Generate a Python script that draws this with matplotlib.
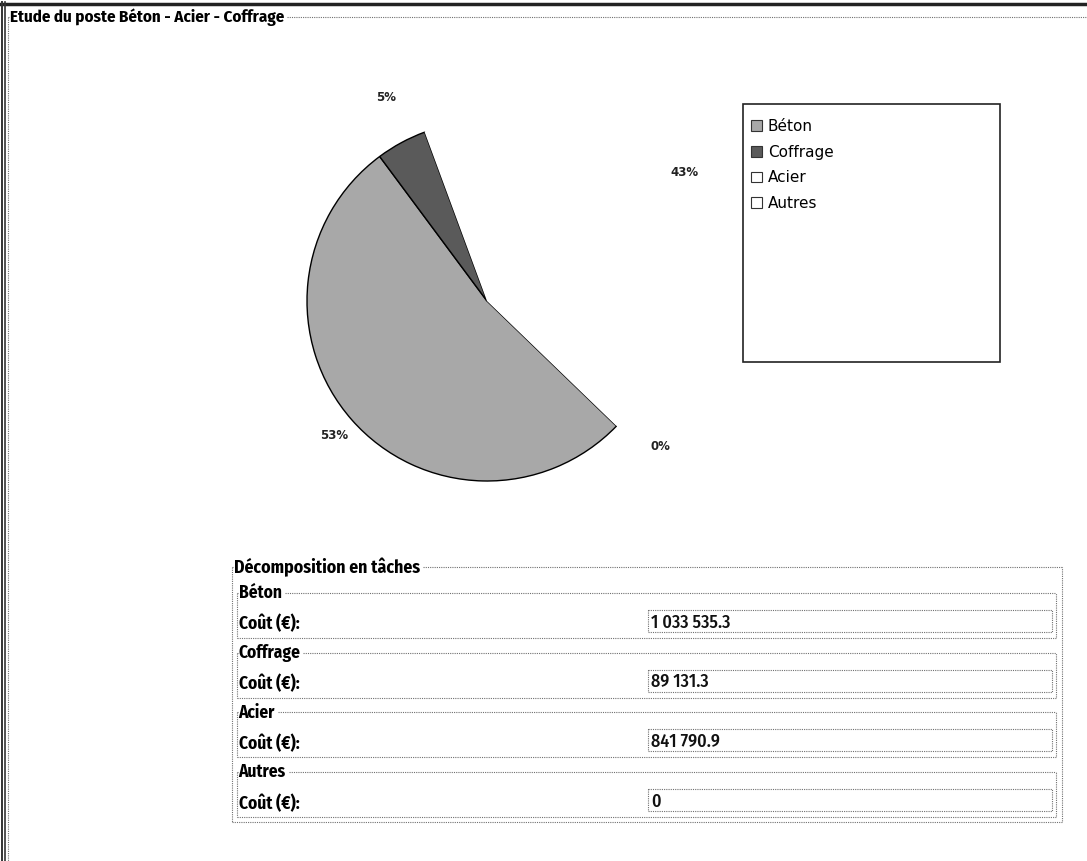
import numpy as np
import matplotlib.pyplot as plt
from matplotlib.patches import Patch, Rectangle

# cost breakdown of the concrete / steel / formwork item
categories = ['Béton', 'Coffrage', 'Acier', 'Autres']
costs = [1033535.3, 89131.3, 841790.9, 0]
slice_colors = ['#a8a8a8', '#5a5a5a', 'white', 'white']

W, H = 1087, 861
NARROW = ['Fira Sans Condensed', 'DejaVu Sans']
DOT = dict(color='#707070', lw=0.8, ls=(0, (1, 1)))


def fmt_cost(v):
    if v == 0:
        return '0'
    return f'{v:,.1f}'.replace(',', ' ')


fig = plt.figure(figsize=(W / 100, H / 100), dpi=100)
bg = fig.add_axes([0, 0, 1, 1])
bg.set_xlim(0, W)
bg.set_ylim(H, 0)
bg.axis('off')
renderer = fig.canvas.get_renderer()


def titled_box(x0, y0, x1, y1, title, size, sides=True):
    t = bg.text(x0 + 1.5, y0, title, fontsize=size, fontweight='bold',
                family=NARROW, ha='left', va='center')
    tx = t.get_window_extent(renderer).x1
    bg.plot([x0, x0 + 1], [y0, y0], **DOT)
    bg.plot([tx + 3, x1], [y0, y0], **DOT)
    bg.plot([x0, x0], [y0, y1], **DOT)
    if sides:
        bg.plot([x0, x1, x1], [y1, y1, y0], **DOT)


# window frame
bg.plot([0, W], [3.5, 3.5], color='#222222', lw=2.5)
bg.plot([1.5, 1.5], [2, H], color='#333333', lw=1.4)
bg.plot([5, 5], [2, H], color='#333333', lw=1.2)
titled_box(8, 17, W, H + 5, 'Etude du poste Béton - Acier - Coffrage', 12.2, sides=False)

# pie
cx, cy, r = 487, 301, 180
ax = fig.add_axes([(cx - r) / W, 1 - (cy + r) / H, 2 * r / W, 2 * r / H])
wedges, _ = ax.pie(costs, colors=slice_colors, startangle=-44, counterclock=False,
                   wedgeprops=dict(edgecolor='black', linewidth=1.0))
for w in wedges[2:]:
    w.set_edgecolor('none')
ax.set_xlim(-1, 1)
ax.set_ylim(-1, 1)

label_dist = [1.13, 1.26, 1.31, 1.26]
label_turn = [0, -2, 0, 4]
total = sum(costs)
for w, v, d, t in zip(wedges, costs, label_dist, label_turn):
    a = np.deg2rad((w.theta1 + w.theta2) / 2 + t)
    ax.text(d * np.cos(a), d * np.sin(a), f'{round(100 * v / total)}%',
            ha='center', va='center', fontsize=8.5, fontweight='bold',
            color='#222222')

# legend
bg.add_patch(Rectangle((743, 104), 257, 258, fill=False, ec='#222222', lw=1.2))
handles = [Patch(facecolor=c, edgecolor='#333333', lw=0.8) for c in slice_colors]
fig.legend(handles, categories, loc='upper left',
           bbox_to_anchor=(748 / W, 1 - 116 / H), frameon=False,
           fontsize=11, handlelength=0.7, handleheight=0.7,
           handletextpad=0.4, labelspacing=0.7, borderaxespad=0,
           borderpad=0.2)

# task breakdown panel
titled_box(232, 567, 1062, 822, 'Décomposition en tâches', 12.8)
for i, (name, v) in enumerate(zip(categories, costs)):
    top = 593 + 59.7 * i
    titled_box(237, top, 1056, top + 45, name, 12.5)
    bg.text(239, top + 31, 'Coût (€):', fontsize=12.5, fontweight='bold',
            family=NARROW, ha='left', va='center')
    bg.add_patch(Rectangle((648, top + 17), 404, 22, fill=False, **DOT))
    bg.text(651, top + 29.5, fmt_cost(v), fontsize=13, fontweight='medium',
            family=NARROW, ha='left', va='center', color='#111111')

fig.savefig('out.png', dpi=100)
